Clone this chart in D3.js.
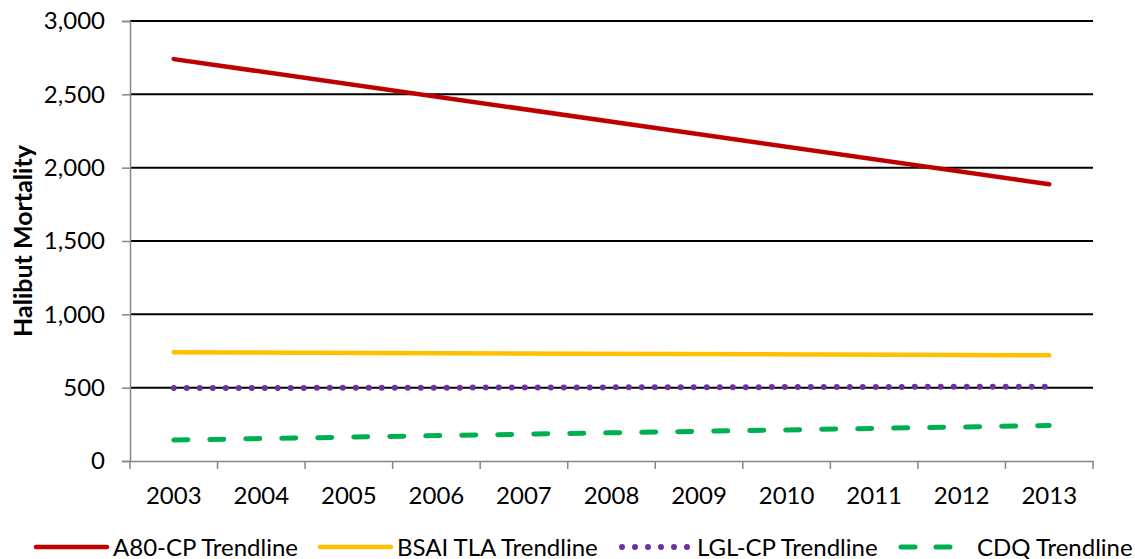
<!DOCTYPE html>
<html>
<head>
<meta charset="utf-8">
<script src="https://cdn.jsdelivr.net/npm/d3@7"></script>
<style>
  html, body { margin: 0; padding: 0; background: #fff; }
  svg { display: block; font-family: Lato, "Liberation Sans", sans-serif; }
</style>
</head>
<body>
<svg id="chart" width="1135" height="559"></svg>
<script>
// ---- data ----
const years = ["2003","2004","2005","2006","2007","2008","2009","2010","2011","2012","2013"];
const yTicks = [0, 500, 1000, 1500, 2000, 2500, 3000];
const seriesNames = ["A80-CP Trendline", "BSAI TLA Trendline", "LGL-CP Trendline", "CDQ Trendline"];
// trendlines are straight: value at first year and at last year
const trendStartYear = "2003";
const trendEndYear = "2013";
const trendStartValues = [2740, 741, 497, 143];
const trendEndValues = [1887, 721, 507, 242];
const seriesColors = ["#C00000", "#FFC000", "#7030A0", "#00B050"];

// ---- layout ----
const svg = d3.select("#chart");
const plot = { left: 130, right: 1093, top: 21, bottom: 461 };
const FS = 24;

const x = d3.scaleBand().domain(years).range([plot.left, plot.right]).paddingInner(0).paddingOuter(0);
const y = d3.scaleLinear().domain([0, 3000]).range([plot.bottom, plot.top]);
const xc = d => x(d) + x.bandwidth() / 2;

// gridlines
svg.append("g").selectAll("line").data(yTicks.filter(v => v > 0)).join("line")
  .attr("x1", plot.left).attr("x2", plot.right)
  .attr("y1", d => y(d)).attr("y2", d => y(d))
  .attr("stroke", "#000").attr("stroke-width", 2);

// y axis
const yAxis = d3.axisLeft(y).tickValues(yTicks).tickSize(8).tickPadding(17)
  .tickFormat(d3.format(","));
const gy = svg.append("g").attr("transform", `translate(${plot.left},0)`).call(yAxis);
gy.select(".domain").attr("stroke", "#868686").attr("stroke-width", 1.5);
gy.selectAll(".tick line").attr("stroke", "#868686").attr("stroke-width", 1.5);
gy.selectAll(".tick text").attr("font-size", FS).attr("fill", "#000")
  .attr("font-family", "Lato, sans-serif");

// x axis
const xAxis = d3.axisBottom(x).tickSize(0).tickPadding(43);
const gx = svg.append("g").attr("transform", `translate(0,${plot.bottom})`).call(xAxis);
gx.select(".domain").attr("stroke", "#868686").attr("stroke-width", 1.5);
gx.selectAll(".tick text").attr("font-size", FS).attr("fill", "#000")
  .attr("font-family", "Lato, sans-serif").attr("dy", "0");
// category boundary ticks
const bounds = years.map(d => x(d)).concat([plot.right]);
gx.append("g").selectAll("line").data(bounds).join("line")
  .attr("x1", d => d).attr("x2", d => d).attr("y1", 0).attr("y2", 8)
  .attr("stroke", "#868686").attr("stroke-width", 1.5);

// y axis title
svg.append("text")
  .attr("transform", `translate(22,${(plot.top + plot.bottom) / 2}) rotate(-90)`)
  .attr("text-anchor", "middle").attr("dominant-baseline", "central")
  .attr("font-weight", "bold").attr("font-size", 25).attr("fill", "#000")
  .text("Halibut Mortality");

// series styles
const styles = [
  { width: 4.5, dash: null },
  { width: 4.5, dash: null },
  { width: 6, dash: "0,13" },
  { width: 5, dash: "14,22" }
];

const line = d3.line().x(d => xc(d.year)).y(d => y(d.value));
const seriesData = seriesNames.map((name, i) => ({
  name, color: seriesColors[i], style: styles[i],
  points: [{ year: trendStartYear, value: trendStartValues[i] }, { year: trendEndYear, value: trendEndValues[i] }]
}));

svg.append("g").selectAll("path").data(seriesData).join("path")
  .attr("d", d => line(d.points))
  .attr("fill", "none")
  .attr("stroke", d => d.color)
  .attr("stroke-width", d => d.style.width)
  .attr("stroke-linecap", "round")
  .attr("stroke-dasharray", d => d.style.dash);

// legend
const legendY = 546;
const legendItems = [
  { x0: 36, x1: 107, tx: 113 },
  { x0: 320, x1: 391, tx: 397 },
  { x0: 622, x1: 688, tx: 697 },
  { x0: 901, x1: 956, tx: 977 }
];
const lg = svg.append("g");
seriesData.forEach((s, i) => {
  const it = legendItems[i];
  lg.append("line")
    .attr("x1", it.x0).attr("x2", it.x1).attr("y1", legendY + 1).attr("y2", legendY + 1)
    .attr("stroke", s.color).attr("stroke-width", s.style.width)
    .attr("stroke-linecap", "round")
    .attr("stroke-dasharray", i === 3 ? "14,21" : s.style.dash);
  lg.append("text")
    .attr("x", it.tx).attr("y", legendY)
    .attr("dominant-baseline", "central")
    .attr("font-size", FS).attr("fill", "#000")
    .text(s.name);
});
</script>
</body>
</html>
